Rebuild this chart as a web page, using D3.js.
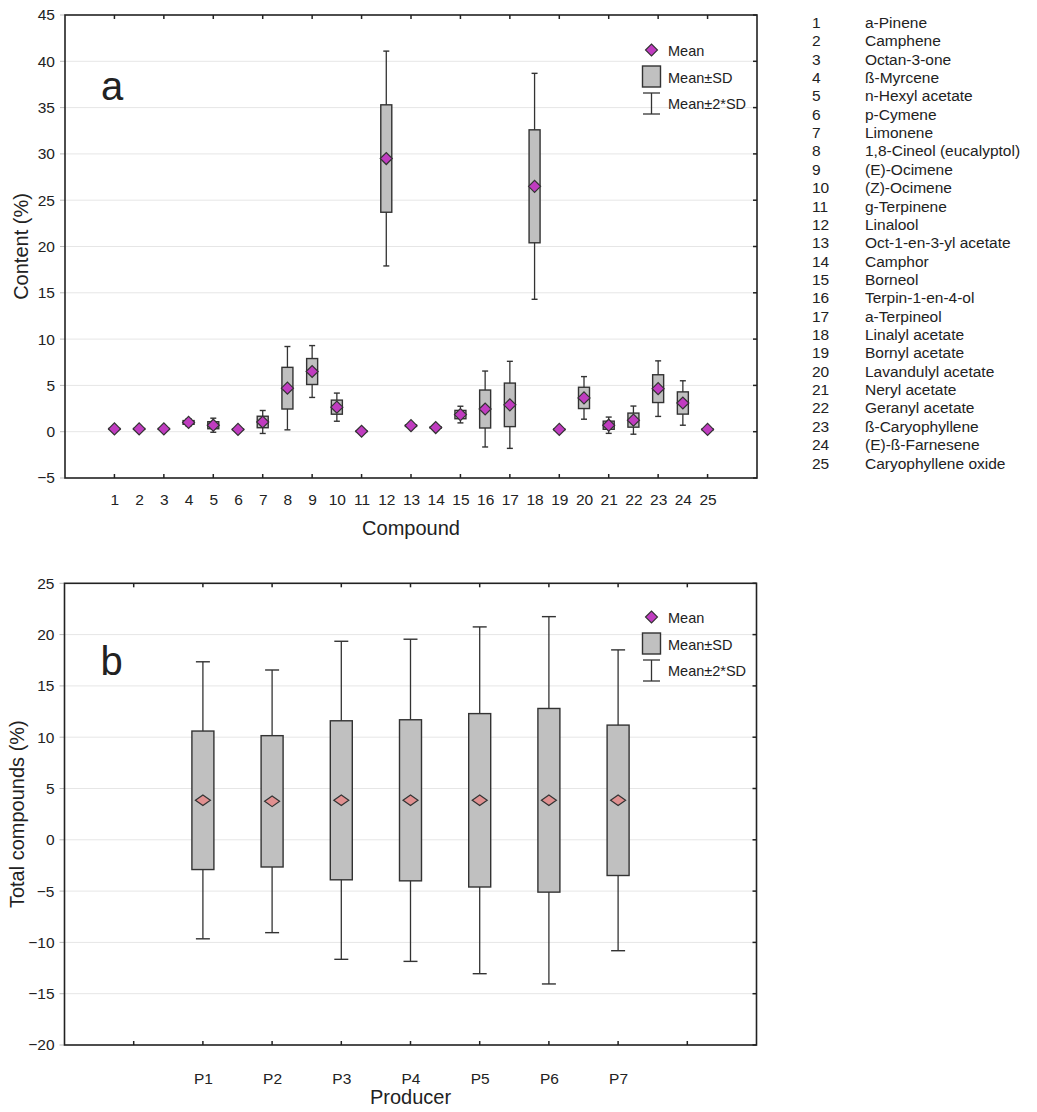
<!DOCTYPE html>
<html><head><meta charset="utf-8">
<script src="https://cdn.jsdelivr.net/npm/d3@7/dist/d3.min.js"></script>
<style>body{margin:0;background:#fff}text{font-family:"Liberation Sans",Arial,sans-serif;fill:#222}</style>
</head><body>
<svg id="c" width="1037" height="1112"></svg>
<script>
// ---- data: panel a ----
const compoundIds = [1,2,3,4,5,6,7,8,9,10,11,12,13,14,15,16,17,18,19,20,21,22,23,24,25];
const compoundNames = ["a-Pinene","Camphene","Octan-3-one","ß-Myrcene","n-Hexyl acetate","p-Cymene","Limonene","1,8-Cineol (eucalyptol)","(E)-Ocimene","(Z)-Ocimene","g-Terpinene","Linalool","Oct-1-en-3-yl acetate","Camphor","Borneol","Terpin-1-en-4-ol","a-Terpineol","Linalyl acetate","Bornyl acetate","Lavandulyl acetate","Neryl acetate","Geranyl acetate","ß-Caryophyllene","(E)-ß-Farnesene","Caryophyllene oxide"];
const meanA = [0.3,0.3,0.3,1.0,0.7,0.25,1.05,4.7,6.5,2.65,0.05,29.5,0.65,0.45,1.85,2.45,2.9,26.5,0.25,3.65,0.7,1.25,4.65,3.1,0.25];
const sdA   = [0.05,0.05,0.05,0.2,0.38,0.04,0.62,2.25,1.4,0.76,0.02,5.8,0.08,0.06,0.45,2.05,2.35,6.1,0.04,1.15,0.44,0.76,1.5,1.2,0.05];
const yTicksA = [-5,0,5,10,15,20,25,30,35,40,45];
// ---- data: panel b ----
const producers = ["P1","P2","P3","P4","P5","P6","P7"];
const meanB = [3.85,3.75,3.85,3.85,3.85,3.85,3.85];
const sdB   = [6.75,6.4,7.75,7.85,8.45,8.95,7.33];
const yTicksB = [-20,-15,-10,-5,0,5,10,15,20,25];
const legendLabels = ["Mean","Mean±SD","Mean±2*SD"];

const svg = d3.select("#c");
const FONT = "Liberation Sans, Arial, sans-serif";

function panel(opt){
  const {x, y, yTicks, xTickVals, cats, labels, means, sds, boxW, capW, dW, dH, meanFill, letter, xTitle, yTitle, xLabPad, xTitleY, yTitleX, legendY} = opt;
  const g = svg.append("g");
  const [x0,x1] = x.range(), [y0,y1] = y.range(); // y0 bottom
  // grid
  g.selectAll(".grid").data(yTicks.slice(1,-1)).join("line")
    .attr("x1",x0).attr("x2",x1).attr("y1",d=>y(d)).attr("y2",d=>y(d))
    .attr("stroke","#e6e6e6").attr("stroke-width",1);
  // outer left ticks (light)
  g.selectAll(".lt").data(yTicks).join("line")
    .attr("x1",x0-5).attr("x2",x0).attr("y1",d=>y(d)).attr("y2",d=>y(d))
    .attr("stroke","#bbb");
  // y axis labels
  const ya = g.append("g").attr("transform",`translate(${x0},0)`)
    .call(d3.axisLeft(y).tickValues(yTicks).tickSize(0).tickPadding(10).tickFormat(d3.format("d")));
  ya.select(".domain").remove();
  ya.selectAll("text").attr("font-size",15.5).attr("font-family",FONT).attr("fill","#333");
  // x axis labels
  const xa = g.append("g").attr("transform",`translate(0,${y0})`)
    .call(d3.axisBottom(x).tickValues(cats).tickSize(0).tickPadding(xLabPad).tickFormat((d,i)=>labels[i]));
  xa.select(".domain").remove();
  xa.selectAll("text").attr("font-size",15.5).attr("font-family",FONT).attr("fill","#333");
  // inward ticks
  g.selectAll(".bt").data(xTickVals).join("line")
    .attr("x1",d=>x(d)).attr("x2",d=>x(d)).attr("y1",y0).attr("y2",y0-4).attr("stroke","#222").attr("stroke-width",1.5);
  g.selectAll(".tt").data(xTickVals).join("line")
    .attr("x1",d=>x(d)).attr("x2",d=>x(d)).attr("y1",y1).attr("y2",y1+4).attr("stroke","#222").attr("stroke-width",1.5);
  g.selectAll(".rt").data(yTicks).join("line")
    .attr("x1",x1).attr("x2",x1-4).attr("y1",d=>y(d)).attr("y2",d=>y(d)).attr("stroke","#222").attr("stroke-width",1.5);
  // frame
  g.append("rect").attr("x",x0).attr("y",y1).attr("width",x1-x0).attr("height",y0-y1)
    .attr("fill","none").attr("stroke","#222").attr("stroke-width",1.6);
  // data
  const items = cats.map((c,i)=>({c, m:means[i], s:sds[i]}));
  const it = g.selectAll(".it").data(items).join("g");
  it.append("line").attr("x1",d=>x(d.c)).attr("x2",d=>x(d.c))
    .attr("y1",d=>y(d.m+2*d.s)).attr("y2",d=>y(d.m-2*d.s)).attr("stroke","#333").attr("stroke-width",1.3);
  ["+","-"].forEach(sg=>{
    it.append("line").attr("x1",d=>x(d.c)-capW/2).attr("x2",d=>x(d.c)+capW/2)
      .attr("y1",d=>y(sg==="+"?d.m+2*d.s:d.m-2*d.s)).attr("y2",d=>y(sg==="+"?d.m+2*d.s:d.m-2*d.s))
      .attr("stroke","#333").attr("stroke-width",1.4);
  });
  it.append("rect").attr("x",d=>x(d.c)-boxW/2).attr("width",boxW)
    .attr("y",d=>y(d.m+d.s)).attr("height",d=>Math.max(0.5,y(d.m-d.s)-y(d.m+d.s)))
    .attr("fill","#c0c0c0").attr("stroke","#333").attr("stroke-width",1.4);
  it.append("path").attr("d",d=>{const cx=x(d.c),cy=y(d.m);return `M${cx-dW},${cy}L${cx},${cy-dH}L${cx+dW},${cy}L${cx},${cy+dH}Z`;})
    .attr("fill",meanFill).attr("stroke","#333").attr("stroke-width",1.2);
  // letter
  g.append("text").attr("x",x0+36).attr("y",y1+opt.letterDy).attr("font-size",40).attr("fill","#111").text(letter);
  // titles
  g.append("text").attr("x",(x0+x1)/2).attr("y",xTitleY).attr("text-anchor","middle").attr("font-size",20).attr("fill","#333").text(xTitle);
  g.append("text").attr("transform",`translate(${yTitleX},${(y0+y1)/2}) rotate(-90)`).attr("text-anchor","middle").attr("font-size",20).attr("fill","#333").text(yTitle);
  // legend
  const L = g.append("g").attr("transform",`translate(0,${legendY})`);
  L.append("path").attr("d","M645.5,0L651.5,-6L657.5,0L651.5,6Z").attr("fill","#c03cc0").attr("stroke","#333").attr("stroke-width",1.1);
  L.append("rect").attr("x",642.5).attr("y",16).attr("width",18).attr("height",21).attr("fill","#c0c0c0").attr("stroke","#333").attr("stroke-width",1.4);
  L.append("line").attr("x1",651.5).attr("x2",651.5).attr("y1",43).attr("y2",64).attr("stroke","#333").attr("stroke-width",1.3);
  L.append("line").attr("x1",643).attr("x2",660).attr("y1",43).attr("y2",43).attr("stroke","#333").attr("stroke-width",1.3);
  L.append("line").attr("x1",643).attr("x2",660).attr("y1",64).attr("y2",64).attr("stroke","#333").attr("stroke-width",1.3);
  L.selectAll(".lt2").data(legendLabels).join("text").attr("x",668).attr("y",(d,i)=>[6,33,59][i])
    .attr("font-size",14.5).attr("fill","#333").text(d=>d);
}

// panel a
const xA = d3.scaleLinear().domain([-1,27]).range([65,757]);
const yA = d3.scaleLinear().domain([-5,45]).range([478,15]);
panel({x:xA, y:yA, yTicks:yTicksA, xTickVals:compoundIds.filter(d=>d%2===1), cats:compoundIds,
  labels:compoundIds.map(String), means:meanA, sds:sdA, boxW:11, capW:6, dW:6, dH:6, meanFill:"#c03cc0",
  letter:"a", letterDy:85, xTitle:"Compound", yTitle:"Content (%)", xLabPad:16, xTitleY:535, yTitleX:28, legendY:50});

// panel b
const xB = d3.scaleLinear().domain([-1,9]).range([64.5,756.5]);
const yB = d3.scaleLinear().domain([-20,25]).range([1045,583.3]);
const prodPos = producers.map((p,i)=>i+1);
panel({x:xB, y:yB, yTicks:yTicksB, xTickVals:d3.range(0,9), cats:prodPos,
  labels:producers, means:meanB, sds:sdB, boxW:22, capW:14, dW:7.5, dH:5.3, meanFill:"#e09090",
  letter:"b", letterDy:92, xTitle:"Producer", yTitle:"Total compounds (%)", xLabPad:28, xTitleY:1104, yTitleX:24, legendY:617});

// compound list
const lst = svg.append("g");
const ly = d3.scaleLinear().domain([1,25]).range([28,468.5]);
lst.selectAll(".n").data(compoundIds).join("text").attr("x",812).attr("y",d=>ly(d)).attr("font-size",15.5).attr("fill","#333").text(d=>d);
lst.selectAll(".nm").data(compoundNames).join("text").attr("x",865).attr("y",(d,i)=>ly(compoundIds[i])).attr("font-size",15.5).attr("fill","#333").text(d=>d);
</script>
</body></html>
